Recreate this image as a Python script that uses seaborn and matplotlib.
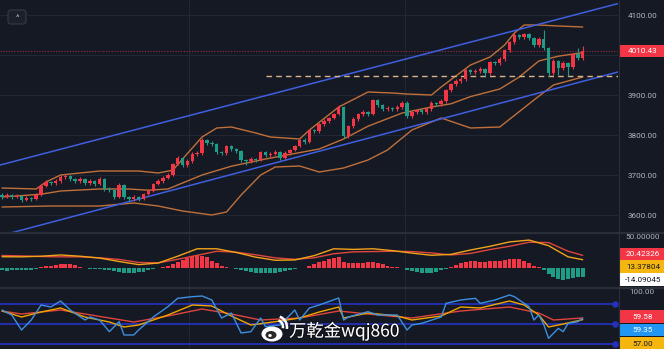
import numpy as np
import matplotlib
matplotlib.use("Agg")
import matplotlib.pyplot as plt
import seaborn as sns
from matplotlib.patches import Rectangle, FancyBboxPatch, Ellipse, Arc
import matplotlib.patheffects as pe

# ---------------- data ----------------
opens = [3650, 3645, 3650, 3645, 3647.5, 3637.5, 3642.5, 3640, 3650, 3672.5,
         3682.5, 3680, 3685, 3695, 3697.5, 3690, 3685, 3690, 3680, 3685,
         3677.5, 3690, 3665, 3662.5, 3645, 3675, 3645, 3640, 3645, 3640,
         3652.5, 3660, 3677.5, 3685, 3692.5, 3700, 3727.5, 3742.5, 3725, 3735,
         3752.5, 3755, 3787.5, 3780, 3777.5, 3757.5, 3755, 3772.5, 3765, 3760,
         3737.5, 3735, 3740, 3737.5, 3757.5, 3750, 3752.5, 3757.5, 3742.5, 3755,
         3762.5, 3772.5, 3787.5, 3782.5, 3812.5, 3810, 3827.5, 3835, 3842.5, 3852.5,
         3870, 3797.5, 3822.5, 3840, 3852.5, 3857.5, 3852.5, 3887.5, 3875, 3865,
         3867.5, 3865, 3870, 3880, 3847.5, 3857.5, 3862.5, 3857.5, 3865, 3880,
         3877.5, 3885, 3912.5, 3927.5, 3935, 3940, 3962.5, 3957.5, 3960, 3965,
         3955, 3982.5, 3980, 3990, 4012.5, 4032.5, 4050, 4045, 4052.5, 4042.5,
         4025, 4040, 4017.5, 3955, 3985, 3967.5, 3980, 3970, 4002.5, 3992.5]
closes = [3645, 3650, 3645, 3647.5, 3637.5, 3642.5, 3640, 3650, 3672.5, 3682.5,
          3680, 3685, 3695, 3697.5, 3690, 3685, 3690, 3680, 3685, 3677.5,
          3690, 3665, 3662.5, 3645, 3675, 3645, 3640, 3645, 3640, 3652.5,
          3660, 3677.5, 3685, 3692.5, 3700, 3727.5, 3742.5, 3725, 3735, 3752.5,
          3755, 3787.5, 3780, 3777.5, 3757.5, 3755, 3772.5, 3765, 3760, 3737.5,
          3735, 3740, 3737.5, 3757.5, 3750, 3752.5, 3757.5, 3742.5, 3755, 3762.5,
          3772.5, 3787.5, 3782.5, 3812.5, 3810, 3827.5, 3835, 3842.5, 3852.5, 3870,
          3797.5, 3822.5, 3840, 3852.5, 3857.5, 3852.5, 3887.5, 3875, 3865, 3867.5,
          3865, 3870, 3880, 3847.5, 3857.5, 3862.5, 3857.5, 3865, 3880, 3877.5,
          3885, 3912.5, 3927.5, 3935, 3940, 3962.5, 3957.5, 3960, 3965, 3955,
          3982.5, 3980, 3990, 4012.5, 4032.5, 4050, 4045, 4052.5, 4042.5, 4025,
          4040, 4017.5, 3955, 3985, 3967.5, 3980, 3970, 4002.5, 3992.5, 4010.43]
highs = [3655, 3654, 3653, 3652, 3650, 3647, 3646, 3654, 3677, 3687,
         3686, 3690, 3700, 3702, 3700, 3693, 3694, 3692, 3689, 3688,
         3694, 3693, 3669, 3665, 3679, 3677, 3648, 3649, 3648, 3656,
         3664, 3681, 3689, 3697, 3704, 3731, 3747, 3745, 3739, 3757,
         3760, 3792, 3790, 3784, 3780, 3761, 3776, 3775, 3768, 3763,
         3741, 3744, 3743, 3761, 3760, 3757, 3762, 3760, 3759, 3766,
         3776, 3791, 3792, 3816, 3816, 3831, 3839, 3846, 3856, 3874,
         3873, 3826, 3844, 3856, 3862, 3861, 3891, 3890, 3878, 3872,
         3870, 3874, 3884, 3885, 3861, 3866, 3865, 3869, 3884, 3883,
         3889, 3916, 3931, 3939, 3944, 3966, 3965, 3964, 3969, 3968,
         3986, 3986, 3994, 4016, 4036, 4054, 4053, 4056, 4055, 4045,
         4044, 4062, 4020, 3989, 3988, 3984, 3983, 4006, 4017, 4022]
lows = [3641, 3642, 3640, 3642, 3632, 3634, 3636, 3637, 3647, 3669,
        3675, 3676, 3681, 3691, 3686, 3680, 3681, 3675, 3676, 3673,
        3674, 3660, 3657, 3640, 3642, 3640, 3634, 3636, 3635, 3637,
        3649, 3657, 3674, 3681, 3689, 3697, 3724, 3720, 3721, 3731,
        3748, 3751, 3776, 3773, 3753, 3750, 3751, 3761, 3756, 3732,
        3725, 3730, 3733, 3734, 3745, 3746, 3749, 3738, 3739, 3751,
        3759, 3769, 3778, 3779, 3805, 3806, 3823, 3831, 3839, 3849,
        3792, 3793, 3818, 3836, 3848, 3848, 3849, 3871, 3861, 3861,
        3860, 3861, 3866, 3842, 3843, 3853, 3853, 3853, 3861, 3873,
        3873, 3881, 3908, 3923, 3931, 3936, 3953, 3953, 3956, 3945,
        3951, 3976, 3976, 3986, 4008, 4028, 4040, 4041, 4038, 4020,
        4021, 4013, 3947, 3950, 3950, 3962, 3948, 3966, 3988, 3988]

bb_up_idx = [0, 7, 9, 12, 20, 28, 32, 35, 37, 41, 44, 47, 52, 55, 61, 63, 69, 75,
             80, 83, 88, 90, 96, 100, 103, 105, 107, 110, 114, 119]
bb_up = [3667.5, 3665, 3682.5, 3700, 3710, 3710, 3705, 3712, 3740, 3795, 3817.5,
         3820, 3805, 3795, 3790, 3812.5, 3870, 3907.5, 3905, 3902.5, 3900, 3920,
         3975, 3995, 4025, 4055, 4075, 4075, 4072.5, 4070]
bb_mid_idx = [0, 8, 12, 20, 26, 30, 34, 41, 47, 54, 61, 65, 70, 75, 82, 88, 92, 96,
              102, 106, 110, 114, 119]
bb_mid = [3645, 3652, 3660, 3665, 3665, 3662, 3665, 3700, 3722, 3740, 3756, 3765,
          3790, 3822, 3855, 3870, 3878, 3896, 3915, 3945, 3985, 3997, 4006]
bb_low_idx = [0, 10, 20, 27, 32, 37, 43, 46, 49, 53, 56, 61, 65, 70, 75, 79, 84, 90,
              96, 102, 109, 113, 119]
bb_low = [3620, 3622.5, 3622.5, 3630, 3622.5, 3610, 3600, 3607.5, 3650, 3700, 3720,
          3722.5, 3707.5, 3717.5, 3737.5, 3762.5, 3812.5, 3842.5, 3817.5, 3820,
          3887.5, 3925, 3945]

channel_x = [-1, 127]
channel_upper = [3723, 4131]
channel_lower = [3546, 3960]
support_x = [54, 127]
support_level = [3947.5, 3947.5]
last_price = 4010.43
grid_prices = [3600, 3700, 3800, 3900, 4000, 4100]
price_ticks = [3600, 3700, 3800, 3900, 4100]

macd_idx = [0, 4, 8, 12, 16, 20, 24, 28, 32, 36, 40, 44, 48, 52, 56, 60, 64, 68, 72,
            76, 80, 84, 88, 92, 96, 100, 104, 108, 112, 116, 119]
dif = [18.2, 18, 19, 21, 19, 16, 10.5, 5.5, 8, 19, 31, 31, 25, 17.5, 12.5, 13, 20,
       31, 30, 31, 28, 24, 20.5, 22, 29, 35, 42, 45, 36, 18, 13.37804]
dea = [20.2, 19.5, 18.5, 18, 18, 16.5, 13.8, 9, 8.3, 14, 20.5, 27, 25.5, 21.3, 16.3,
       14, 16.5, 23, 26, 26.5, 27, 26.5, 24.3, 21, 23.5, 29.8, 35, 41.5, 41, 27, 20.42326]
macd_hist = [-4, -4.5, -4, -3.5, -3, -3, -2.5, -1.5,
             1, 2.5, 4, 5, 6, 7, 6, 4.5,
             2, 0.5, -1, -1.5, -1,
             -2.5, -4, -5, -6.5, -7.5, -8, -8, -7, -6, -4,
             -2, -0.5,
             1.5, 4, 7, 10, 13, 16, 19, 21,
             20, 17, 12, 8, 4, 2, 0.5,
             -1, -3, -5, -6.5, -7.5, -8, -8, -8, -7.5, -6.5, -5, -3.5, -2,
             -0.5, 0.5,
             4, 7, 10, 12, 14, 16, 18,
             10, 8.5, 8, 8, 8.5, 9, 9, 8,
             6, 4,
             2, 1, 0,
             -3, -5, -6.5, -7.5, -8, -7.5, -6, -3.5,
             -1,
             2, 5, 8, 10, 11, 10.5, 10, 10, 10.5, 11, 11.5, 12.5, 14, 14.5, 14, 12,
             8, 4, 1.5,
             -4, -10, -15, -18, -19,
             -18, -16.5, -15, -14.09045]

rsi_fast_idx = [0, 2, 4, 6, 8, 10, 12, 14, 17, 18, 20, 22, 24, 25, 27, 28, 31, 34,
                36, 39, 41, 43, 45, 47, 49, 51, 53, 54, 57, 60, 61, 63, 65, 69, 70,
                71, 75, 77, 81, 83, 84, 86, 90, 91, 94, 97, 98, 101, 104, 105, 107,
                108, 109, 110, 111, 112, 114, 115, 116, 118, 119]
rsi_fast = [71.5, 64, 41.5, 56.5, 79, 76, 85, 71.5, 56.5, 61, 56.5, 39, 54, 34, 34,
            41.5, 61, 76.5, 89, 91.5, 92.5, 86.5, 59.5, 67, 37, 39, 59.5, 46.5, 49,
            71.5, 56.5, 74.5, 79, 89.5, 56.5, 61, 69, 64, 64, 41.5, 49, 51.5, 61,
            81.5, 86.5, 89, 81.5, 86.5, 94, 91.5, 81.5, 76.5, 56.5, 64, 50, 29, 44,
            39, 51.5, 54, 59.35]
rsi_mid_idx = [0, 4, 8, 12, 17, 22, 25, 28, 34, 39, 43, 47, 51, 57, 61, 65, 69, 70,
               75, 81, 84, 90, 94, 98, 104, 107, 110, 112, 115, 119]
rsi_mid = [70, 61, 68.5, 74.5, 61, 53.5, 46, 49, 64, 79, 77.5, 62.5, 49, 55, 59.5,
           68.5, 76, 59.5, 67, 62.5, 56.5, 62.5, 76, 74.5, 85, 79, 64, 46, 50.5, 57.0]
rsi_slow_idx = [0, 4, 12, 22, 27, 34, 41, 47, 53, 61, 69, 75, 84, 94, 104, 110, 113, 119]
rsi_slow = [70, 65.5, 71.5, 59.5, 53.5, 62.5, 73, 65.5, 56.5, 59.5, 70, 65.5, 59.5,
            70, 76, 67, 56.5, 59.58]
rsi_levels = [80, 50, 20]

# ---------------- style ----------------
BG = '#151924'
GRID = '#232733'
RED = '#f23645'
GREEN = '#1f9c86'
TXT = '#b2b5be'
BAND = '#c0703a'
CHAN = '#3f5fe0'

sns.set_style('dark', {'axes.facecolor': BG, 'figure.facecolor': BG})
plt.rcParams['font.family'] = ['Roboto', 'DejaVu Sans']

W, H = 664, 349
fig = plt.figure(figsize=(W / 100, H / 100), dpi=100)
fig.patch.set_facecolor(BG)

def fy(py):
    return 1 - py / H

XL = (-0.41, 126.23)
ax1 = fig.add_axes([0, fy(232), 618 / W, 232 / H])
ax2 = fig.add_axes([0, fy(287), 618 / W, 53 / H])
ax3 = fig.add_axes([0, 0, 618 / W, 60 / H])

for ax, pad in ((ax1, 7), (ax2, 5), (ax3, 8.5)):
    ax.set_facecolor(BG)
    ax.set_xlim(*XL)
    for s in ax.spines.values():
        s.set_visible(False)
    ax.set_xticks([])
    ax.yaxis.tick_right()
    ax.tick_params(axis='y', length=0, pad=pad, labelsize=5.9, labelcolor=TXT)
    for gx in (38.3, 82.6):
        ax.axvline(gx, color=GRID, lw=0.8, zorder=0)

# ---- main panel ----
ax1.set_ylim(3557.5, 4137.5)
ax1.set_yticks(price_ticks)
ax1.set_yticklabels([f'{t:.2f}' for t in price_ticks])
for t in grid_prices:
    ax1.axhline(t, color=GRID, lw=0.8, zorder=0)

idx = np.arange(len(closes))
o = np.array(opens); c = np.array(closes)
cols = np.where(c >= o, RED, GREEN)
ax1.vlines(idx, lows, highs, colors=cols, lw=0.8, zorder=3)
ax1.bar(idx, np.maximum(np.abs(c - o), 0.8), bottom=np.minimum(o, c), width=0.7,
        color=cols, zorder=4, linewidth=0)

for xs, ys in ((bb_up_idx, bb_up), (bb_mid_idx, bb_mid), (bb_low_idx, bb_low)):
    sns.lineplot(x=xs, y=ys, ax=ax1, color=BAND, lw=1.0, zorder=2)
sns.lineplot(x=channel_x, y=channel_upper, ax=ax1, color=CHAN, lw=1.1, zorder=2)
sns.lineplot(x=channel_x, y=channel_lower, ax=ax1, color=CHAN, lw=1.1, zorder=2)
ax1.plot(support_x, support_level, color='#dcb48c', lw=1.0, ls=(0, (4, 3)), zorder=2)
ax1.axhline(last_price, color=RED, alpha=0.6, lw=0.8, ls=(0, (1, 1.5)), zorder=1)
ax1.set_ylabel(''); ax1.set_xlabel('')

# ---- MACD panel ----
ax2.set_ylim(-30.6, 54.8)
ax2.set_yticks([50]); ax2.set_yticklabels(['50.00000'])
hcols = np.where(np.array(macd_hist) >= 0, RED, GREEN)
ax2.bar(idx, macd_hist, width=0.8, color=hcols, linewidth=0, zorder=2)
sns.lineplot(x=macd_idx, y=dea, ax=ax2, color='#e0463c', lw=1.0, zorder=3)
sns.lineplot(x=macd_idx, y=dif, ax=ax2, color='#f2a31b', lw=1.0, zorder=3)
ax2.set_ylabel(''); ax2.set_xlabel('')

# ---- RSI panel ----
ax3.set_ylim(13.0, 103.0)
ax3.set_yticks([100]); ax3.set_yticklabels(['100.00'])
for lv in rsi_levels:
    ax3.axhline(lv, color='#2431b8', lw=1.3, zorder=1)
ax3.scatter([125.6] * len(rsi_levels), rsi_levels, s=14, color='#2431b8', zorder=2,
            clip_on=False)
sns.lineplot(x=rsi_slow_idx, y=rsi_slow, ax=ax3, color='#e0443c', lw=1.0, zorder=3)
sns.lineplot(x=rsi_mid_idx, y=rsi_mid, ax=ax3, color='#f0a500', lw=1.0, zorder=3)
sns.lineplot(x=rsi_fast_idx, y=rsi_fast, ax=ax3, color='#3d8fe0', lw=1.0, zorder=4)
ax3.set_ylabel(''); ax3.set_xlabel('')

# ---------------- overlay (pixel space) ----------------
ov = fig.add_axes([0, 0, 1, 1], zorder=10)
ov.set_xlim(0, W); ov.set_ylim(H, 0)
ov.axis('off'); ov.patch.set_alpha(0)

ov.hlines([232.5, 287.5], 0, W, color='#2a2e39', lw=1.6)
ov.vlines(618.5, 0, H, color='#2a2e39', lw=0.8)

def box(yc, text, fc, tc):
    ov.add_patch(Rectangle((620, yc - 6.3), 44, 12.6, fc=fc, ec='none'))
    ov.text(643, yc + 0.3, text, color=tc, fontsize=5.9, ha='center', va='center')

lp_y = H - ax1.transData.transform((0, last_price))[1]
box(lp_y, f'{last_price:.2f}', RED, 'white')
box(254, f'{dea[-1]:.5f}', RED, 'white')
box(266.7, f'{dif[-1]:.5f}', '#f5b70f', '#131722')
box(279.3, f'{macd_hist[-1]:.5f}', '#ffffff', '#131722')
box(316.7, f'{rsi_slow[-1]:.2f}', RED, 'white')
box(330, f'{rsi_fast[-1]:.2f}', '#2196f3', 'white')
box(343.3, f'{rsi_mid[-1]:.2f}', '#f5b70f', '#131722')

# top-left icon
ov.add_patch(FancyBboxPatch((8, 10), 18, 14, boxstyle='round,pad=0,rounding_size=3',
                            fc='#1c202b', ec='#363a45', lw=0.8))
ov.text(17, 18, '^', color='#c8cad0', fontsize=6, ha='center', va='center')

# watermark
ov.add_patch(Ellipse((272, 334), 21, 15, fc='white', ec='none'))
ov.add_patch(Ellipse((271, 335), 11, 8, fc='#2a2a2a', ec='none'))
ov.add_patch(Ellipse((270, 335.5), 3.5, 3, fc='white', ec='none'))
ov.add_patch(Arc((276, 327), 14, 14, theta1=-70, theta2=10, color='white', lw=1.8))
ov.add_patch(Arc((276, 327), 22, 22, theta1=-70, theta2=10, color='white', lw=1.8))
ov.text(289, 331, '万乾金wqj860', fontsize=12.5, color='white', ha='left', va='center',
        family=['Noto Sans CJK SC', 'DejaVu Sans'],
        path_effects=[pe.withStroke(linewidth=1.5, foreground='#000000', alpha=0.4)])

fig.savefig('out.png', dpi=100, facecolor=BG)
